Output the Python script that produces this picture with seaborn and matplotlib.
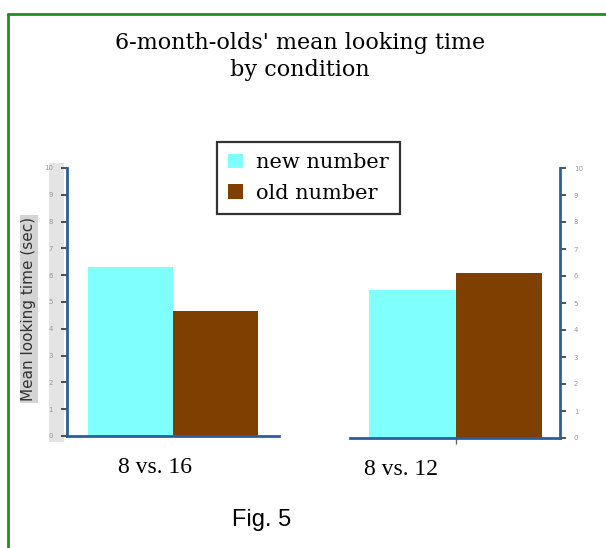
import matplotlib
matplotlib.use("Agg")
import matplotlib.pyplot as plt
from matplotlib.lines import Line2D
from matplotlib.patches import Rectangle
import seaborn as sns
import pandas as pd

conditions = ["8 vs. 16", "8 vs. 12"]
series_names = ["new number", "old number"]
new_number = [6.3, 5.5]
old_number = [4.65, 6.1]
y_ticks = list(range(0, 11))
title_text = "6-month-olds' mean looking time\nby condition"
ylabel_text = "Mean looking time (sec)"
fig_caption = "Fig. 5"

rows = []
for c, n, o in zip(conditions, new_number, old_number):
    rows.append({"condition": c, "type": series_names[0], "value": n})
    rows.append({"condition": c, "type": series_names[1], "value": o})
df = pd.DataFrame(rows)

sns.set_style("white")
CYAN = "#80ffff"
BROWN = "#7f3f00"
SPINE = "#2b5e9c"

W, H = 606, 548
fig = plt.figure(figsize=(W / 100, H / 100), dpi=100)

def fx(px):
    return px / W

def fy(py):
    return 1 - py / H

# gray strip behind left tick labels
strip = Rectangle((fx(49), fy(442)), fx(64) - fx(49), fy(163) - fy(442),
                  transform=fig.transFigure, facecolor="#e4e4e4",
                  edgecolor="none", zorder=-5)
fig.patches.append(strip)

ax1 = fig.add_axes([fx(67), fy(436), fx(279) - fx(67), fy(168) - fy(436)])
ax2 = fig.add_axes([fx(350), fy(438), fx(560) - fx(350), fy(168) - fy(438)])

handles, labels = None, None
for ax, cond, xl, label_x in [(ax1, conditions[0], (-0.5, 0.5), -0.085),
                              (ax2, conditions[1], (-0.49, 0.485), -0.255)]:
    sub = df[df["condition"] == cond]
    sns.barplot(data=sub, x="condition", y="value", hue="type",
                hue_order=series_names, palette=[CYAN, BROWN], saturation=1,
                width=0.8, linewidth=0, ax=ax, errorbar=None)
    if ax.get_legend() is not None:
        handles, labels = ax.get_legend_handles_labels()
        ax.get_legend().remove()
    ax.set_xlim(*xl)
    ax.set_ylim(0, 10)
    ax.set_yticks(y_ticks)
    ax.set_xlabel("")
    ax.set_ylabel("")
    ax.set_facecolor("none")
    ax.set_xticks([label_x])
    ax.set_xticklabels([cond], fontsize=17, family="Liberation Serif", color="black")
    for s in ax.spines.values():
        s.set_color(SPINE)
        s.set_linewidth(2)
    ax.spines["top"].set_visible(False)
    ax.tick_params(axis="x", which="major", pad=15, length=0)

ax1.spines["right"].set_visible(False)
ax1.tick_params(axis="y", which="major", left=True, right=False, direction="out",
                length=4, width=1.2, color="#333333",
                labelsize=5, labelcolor="#999999", pad=6)
ax2.spines["left"].set_visible(False)
ax2.yaxis.tick_right()
ax2.tick_params(axis="y", which="major", right=True, left=False, direction="out",
                length=4, width=1.2, color="#333333",
                labelsize=5, labelcolor="#999999", pad=6)
ax2.set_xticks([0], minor=True)
ax2.tick_params(axis="x", which="minor", bottom=True, length=4, width=1, color="#666666")

leg = fig.legend(handles, labels, loc="upper left",
                 bbox_to_anchor=(fx(217), fy(142)), bbox_transform=fig.transFigure,
                 borderaxespad=0, frameon=True, fancybox=False,
                 handlelength=0.7, handleheight=0.7,
                 handletextpad=0.6, borderpad=0.55, labelspacing=0.55,
                 prop={"family": "DejaVu Serif", "size": 15})
leg.get_frame().set_edgecolor("black")
leg.get_frame().set_linewidth(1.6)
for t in leg.get_texts():
    t.set_color("black")

fig.text(fx(300), fy(56.5), title_text, ha="center", va="center",
         multialignment="center", fontsize=16, family="DejaVu Serif",
         linespacing=1.25, color="black")

fig.text(fx(29), fy(309), ylabel_text, rotation=90, ha="center", va="center",
         fontsize=11, color="#333333", family="DejaVu Sans",
         bbox=dict(boxstyle="square,pad=0.12", facecolor="#d4d4d4", edgecolor="none"))

fig.text(fx(262), fy(520), fig_caption, ha="center", va="center",
         fontsize=17, family="Liberation Sans", color="black")

# green frame (left and top edges visible)
fig.lines.append(Line2D([fx(8), fx(8)], [0, fy(14)], transform=fig.transFigure,
                        color="#1e8f1e", linewidth=2))
fig.lines.append(Line2D([fx(8), 1], [fy(14), fy(14)], transform=fig.transFigure,
                        color="#1e8f1e", linewidth=2))

fig.savefig("out.png", dpi=100)
